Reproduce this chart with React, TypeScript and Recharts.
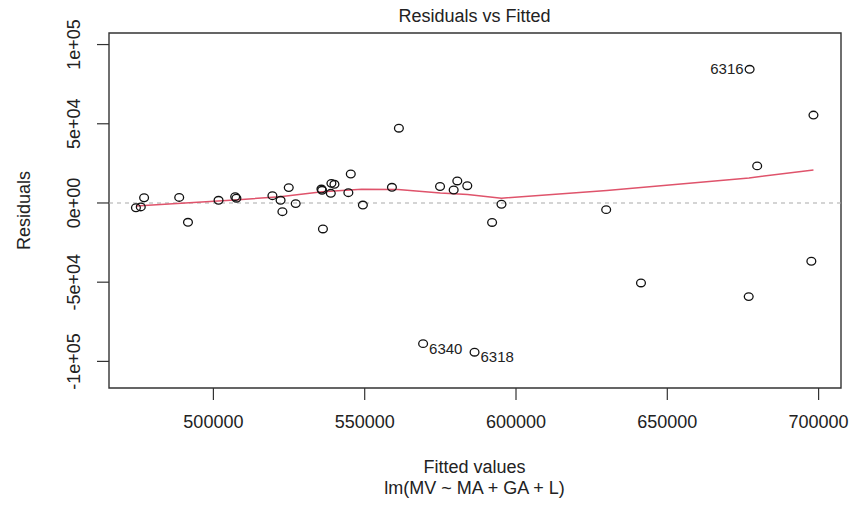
import React from 'react';
import { ScatterChart, Scatter, XAxis, YAxis, ReferenceLine, ReferenceArea } from 'recharts';

// fitted values and residuals
const fittedValues = [
  474400, 476000, 477100, 488700, 491600, 501700, 507200, 507600, 519500, 522200,
  522800, 524900, 527200, 535700, 535900, 536200, 538800, 539000, 540000, 544600,
  545400, 549400, 559000, 561300, 574900, 579400, 580600, 583900, 595200, 592100,
  629800, 677200, 698300, 679700, 641300, 676900, 697600, 569300, 586300,
];
const residualValues = [
  -3000, -2500, 3300, 3500, -12200, 1700, 4000, 3000, 4600, 1700,
  -5500, 9700, -400, 8800, 8000, -16400, 6100, 12400, 11800, 6500,
  18300, -1300, 9900, 47200, 10400, 8200, 13900, 10900, -800, -12300,
  -4200, 84400, 55500, 23400, -50500, -59100, -36800, -88800, -94200,
];
const pointLabels = [
  '', '', '', '', '', '', '', '', '', '',
  '', '', '', '', '', '', '', '', '', '',
  '', '', '', '', '', '', '', '', '', '',
  '', '6316', '', '', '', '', '', '6340', '6318',
];

// lowess smoother
const smoothFitted = [474400, 507000, 522000, 536000, 549000, 561000, 575000, 584000, 595200, 630000, 677000, 698300];
const smoothResidual = [-1900, 1900, 4000, 7100, 8600, 8500, 6300, 5400, 3000, 7900, 15800, 20800];

const xTicks = [500000, 550000, 600000, 650000, 700000];
const yTicks = [-100000, -50000, 0, 50000, 100000];
const yTickLabels = ['-1e+05', '-5e+04', '0e+00', '5e+04', '1e+05'];

const xDomain = [465500, 707400];
const yDomain = [-116800, 107300];

const font = '"Liberation Sans", Arial, sans-serif';
const ink = '#222';

const points = fittedValues.map((f, i) => ({ fitted: f, resid: residualValues[i], label: pointLabels[i] }));
const smooth = smoothFitted.map((f, i) => ({ fitted: f, resid: smoothResidual[i] }));

const PointShape = (props: any) => {
  const { cx, cy, payload } = props;
  const lab = payload.label;
  return (
    <g>
      <ellipse cx={cx} cy={cy} rx={4.4} ry={3.8} fill="none" stroke="#111" strokeWidth={1.3} />
      {lab === '6316' && (
        <text x={cx - 6} y={cy + 5} textAnchor="end" fontSize={15} fontFamily={font} fill={ink}>{lab}</text>
      )}
      {(lab === '6340' || lab === '6318') && (
        <text x={cx + 6} y={cy + 10} textAnchor="start" fontSize={15} fontFamily={font} fill={ink}>{lab}</text>
      )}
    </g>
  );
};

const XTick = (props: any) => {
  const { x, payload } = props;
  return (
    <text x={x} y={428} textAnchor="middle" fontSize={18} fontFamily={font} fill={ink}>
      {payload.value}
    </text>
  );
};

const YTick = (props: any) => {
  const { y, payload } = props;
  const idx = yTicks.indexOf(payload.value);
  return (
    <text x={80} y={y} transform={`rotate(-90, 80, ${y})`} textAnchor="middle" fontSize={18} fontFamily={font} fill={ink}>
      {yTickLabels[idx]}
    </text>
  );
};

const App = () => {
  return (
    <div style={{ position: 'fixed', left: 0, top: 0, width: 857, height: 506, background: '#fff' }}>
      <ScatterChart width={857} height={506} margin={{ top: 33, right: 16, bottom: 88, left: 79 }}>
        <XAxis
          type="number"
          dataKey="fitted"
          domain={xDomain}
          ticks={xTicks}
          allowDataOverflow
          height={30}
          axisLine={false}
          tickSize={12}
          tickLine={{ stroke: '#333', strokeWidth: 1.2 }}
          tick={<XTick />}
        />
        <YAxis
          type="number"
          dataKey="resid"
          domain={yDomain}
          ticks={yTicks}
          allowDataOverflow
          width={30}
          axisLine={false}
          tickSize={12}
          tickLine={{ stroke: '#333', strokeWidth: 1.2 }}
          tick={<YTick />}
        />
        <ReferenceArea
          x1={xDomain[0]}
          x2={xDomain[1]}
          y1={yDomain[0]}
          y2={yDomain[1]}
          fill="none"
          stroke="#333"
          strokeWidth={1.4}
          ifOverflow="visible"
        />
        <ReferenceLine y={0} stroke="#aaa" strokeDasharray="4 4" strokeWidth={1.2} />
        <Scatter
          data={smooth}
          isAnimationActive={false}
          line={{ stroke: '#DF536B', strokeWidth: 1.5 }}
          shape={() => <g />}
          legendType="none"
        />
        <Scatter data={points} isAnimationActive={false} shape={<PointShape />} legendType="none" />
      </ScatterChart>
      <svg width={857} height={506} style={{ position: 'absolute', left: 0, top: 0, pointerEvents: 'none' }}>
        <text x={474.5} y={22} textAnchor="middle" fontSize={18} fontFamily={font} fill={ink}>
          Residuals vs Fitted
        </text>
        <text x={474.5} y={473} textAnchor="middle" fontSize={18} fontFamily={font} fill={ink}>
          Fitted values
        </text>
        <text x={474.5} y={494} textAnchor="middle" fontSize={18} fontFamily={font} fill={ink}>
          lm(MV ~ MA + GA + L)
        </text>
        <text x={30} y={210.5} transform="rotate(-90, 30, 210.5)" textAnchor="middle" fontSize={18} fontFamily={font} fill={ink}>
          Residuals
        </text>
      </svg>
    </div>
  );
};

export default App;
